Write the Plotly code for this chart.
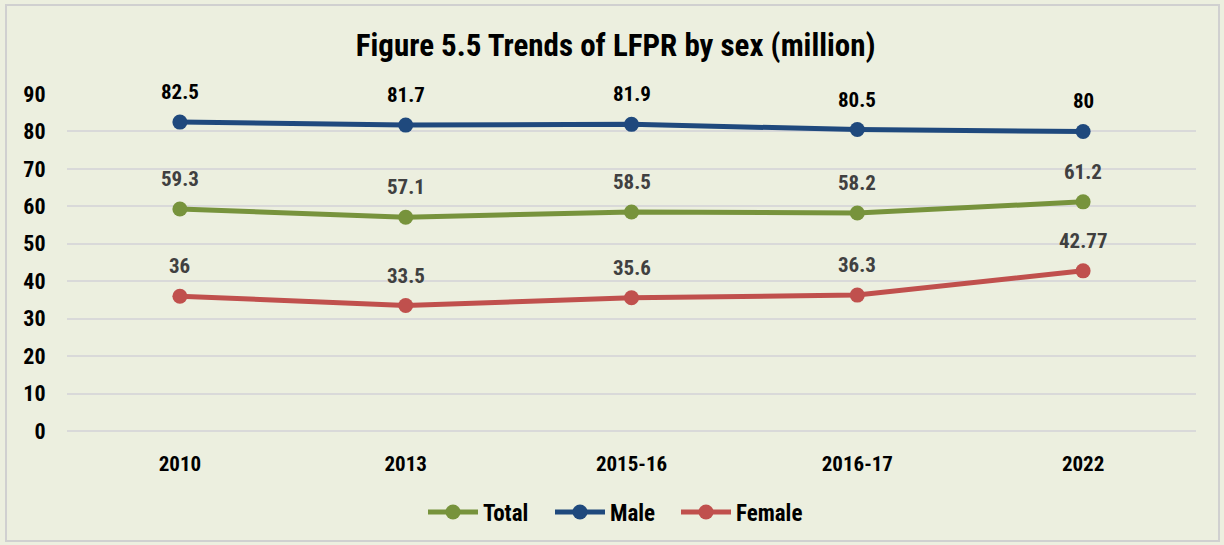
import plotly.graph_objects as go

categories = ["2010", "2013", "2015-16", "2016-17", "2022"]
total = [59.3, 57.1, 58.5, 58.2, 61.2]
male = [82.5, 81.7, 81.9, 80.5, 80]
female = [36, 33.5, 35.6, 36.3, 42.77]
total_labels = ["59.3", "57.1", "58.5", "58.2", "61.2"]
male_labels = ["82.5", "81.7", "81.9", "80.5", "80"]
female_labels = ["36", "33.5", "35.6", "36.3", "42.77"]
y_ticks = [0, 10, 20, 30, 40, 50, 60, 70, 80, 90]

FONT = "Liberation Sans Narrow, Arial Narrow, Roboto Condensed, Liberation Sans, sans-serif"

series = [
    ("Total", total, total_labels, "#77933C", "#404040", "legend", 430),
    ("Male", male, male_labels, "#1F497D", "#000000", "legend2", 557),
    ("Female", female, female_labels, "#C0504D", "#404040", "legend3", 683),
]

L, R, T, B = 67, 28, 94, 114
W, H = 1224, 545
pw = W - L - R
ph = H - T - B

def px_x(p):
    return (p - L) / pw

def px_y(p):
    return (H - B - p) / ph

fig = go.Figure()
annotations = []
legends = {}
for name, vals, labels, color, tcolor, leg, lx in series:
    fig.add_trace(go.Scatter(
        x=categories, y=vals, name=name, mode="lines+markers",
        line=dict(color=color, width=5),
        marker=dict(color=color, size=15),
        cliponaxis=False, legend=leg,
    ))
    for i, (v, t) in enumerate(zip(vals, labels)):
        annotations.append(dict(
            x=i, y=v, text=t, showarrow=False, yshift=30,
            font=dict(family=FONT, size=21, color=tcolor, weight="bold"),
        ))
    legends[leg] = dict(
        orientation="h", x=px_x(lx - 7), xanchor="left", y=px_y(512),
        yanchor="middle",
        font=dict(family=FONT, size=23, color="#000000", weight="bold"),
        bgcolor="rgba(0,0,0,0)", itemwidth=50,
    )

fig.update_layout(
    width=W, height=H,
    margin=dict(l=L, r=R, t=T, b=B, autoexpand=False),
    paper_bgcolor="#ECEFDF",
    plot_bgcolor="#ECEFDF",
    title=dict(
        text="Figure 5.5 Trends of LFPR by sex (million)",
        x=0.503, xanchor="center", y=1 - 45 / H, yanchor="middle",
        font=dict(family=FONT, size=31, color="#000000", weight="bold"),
    ),
    xaxis=dict(
        type="category", range=[-0.5, 4.5], showgrid=False, zeroline=False,
        showline=False, ticks="outside", ticklen=14, tickcolor="rgba(0,0,0,0)",
        tickfont=dict(family=FONT, size=21, color="#000000", weight="bold"),
    ),
    yaxis=dict(
        range=[0, 90], tickvals=y_ticks, showgrid=True, gridcolor="#D9D9D9",
        gridwidth=2, zeroline=True, zerolinecolor="#D9D9D9", zerolinewidth=2,
        showline=False, ticks="outside",
        ticklen=16, tickcolor="rgba(0,0,0,0)",
        tickfont=dict(family=FONT, size=22, color="#000000", weight="bold"),
    ),
    annotations=annotations,
    showlegend=True,
    shapes=[dict(
        type="rect", xref="paper", yref="paper",
        x0=px_x(6), x1=px_x(1219), y0=px_y(541), y1=px_y(5),
        line=dict(color="#D0D0D0", width=2), fillcolor="rgba(0,0,0,0)",
        layer="below",
    )],
    **legends,
)

fig.write_html(
    "out.html",
    config={"displayModeBar": False},
    post_script="document.body.style.margin='0';document.body.style.overflow='hidden';",
)
